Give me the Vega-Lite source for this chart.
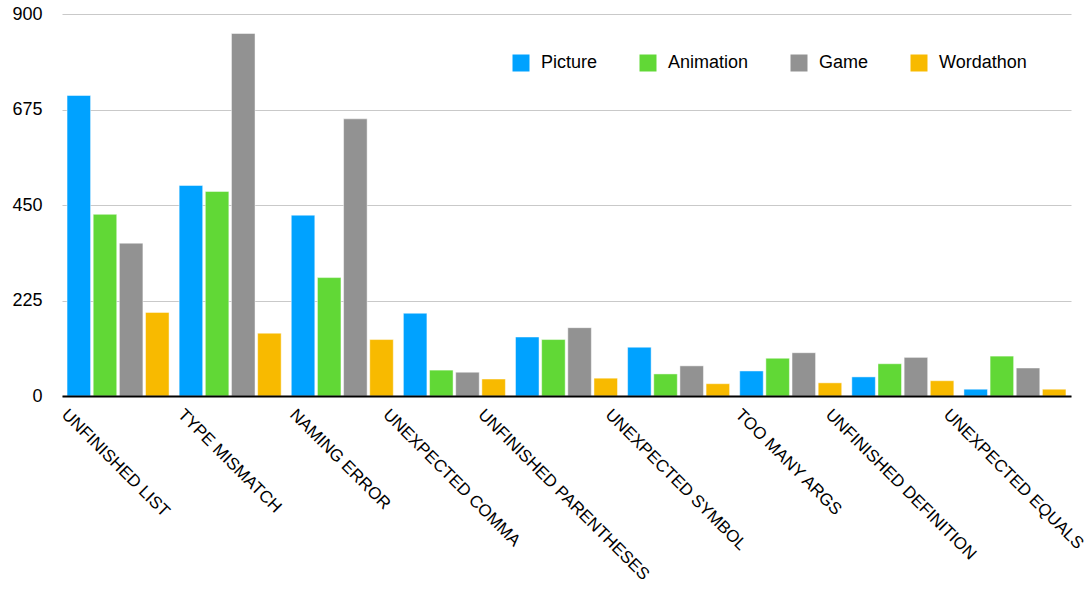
{
  "$schema": "https://vega.github.io/schema/vega-lite/v6.json",
  "autosize": "none",
  "width": 1009,
  "height": 382,
  "padding": {"left": 62, "top": 14, "right": 19, "bottom": 194},
  "background": "white",
  "config": {
    "font": "Liberation Sans",
    "view": {"stroke": null}
  },
  "data": {
    "values": [
      {"error": "UNFINISHED LIST", "tool": "Picture", "count": 708},
      {"error": "UNFINISHED LIST", "tool": "Animation", "count": 428},
      {"error": "UNFINISHED LIST", "tool": "Game", "count": 360},
      {"error": "UNFINISHED LIST", "tool": "Wordathon", "count": 197},
      {"error": "TYPE MISMATCH", "tool": "Picture", "count": 496},
      {"error": "TYPE MISMATCH", "tool": "Animation", "count": 482},
      {"error": "TYPE MISMATCH", "tool": "Game", "count": 854},
      {"error": "TYPE MISMATCH", "tool": "Wordathon", "count": 148},
      {"error": "NAMING ERROR", "tool": "Picture", "count": 426},
      {"error": "NAMING ERROR", "tool": "Animation", "count": 279},
      {"error": "NAMING ERROR", "tool": "Game", "count": 653},
      {"error": "NAMING ERROR", "tool": "Wordathon", "count": 133},
      {"error": "UNEXPECTED COMMA", "tool": "Picture", "count": 195},
      {"error": "UNEXPECTED COMMA", "tool": "Animation", "count": 61},
      {"error": "UNEXPECTED COMMA", "tool": "Game", "count": 56},
      {"error": "UNEXPECTED COMMA", "tool": "Wordathon", "count": 40},
      {"error": "UNFINISHED PARENTHESES", "tool": "Picture", "count": 139},
      {"error": "UNFINISHED PARENTHESES", "tool": "Animation", "count": 133},
      {"error": "UNFINISHED PARENTHESES", "tool": "Game", "count": 161},
      {"error": "UNFINISHED PARENTHESES", "tool": "Wordathon", "count": 42},
      {"error": "UNEXPECTED SYMBOL", "tool": "Picture", "count": 115},
      {"error": "UNEXPECTED SYMBOL", "tool": "Animation", "count": 52},
      {"error": "UNEXPECTED SYMBOL", "tool": "Game", "count": 71},
      {"error": "UNEXPECTED SYMBOL", "tool": "Wordathon", "count": 29},
      {"error": "TOO MANY ARGS", "tool": "Picture", "count": 59},
      {"error": "TOO MANY ARGS", "tool": "Animation", "count": 89},
      {"error": "TOO MANY ARGS", "tool": "Game", "count": 102},
      {"error": "TOO MANY ARGS", "tool": "Wordathon", "count": 31},
      {"error": "UNFINISHED DEFINITION", "tool": "Picture", "count": 45},
      {"error": "UNFINISHED DEFINITION", "tool": "Animation", "count": 76},
      {"error": "UNFINISHED DEFINITION", "tool": "Game", "count": 91},
      {"error": "UNFINISHED DEFINITION", "tool": "Wordathon", "count": 36},
      {"error": "UNEXPECTED EQUALS", "tool": "Picture", "count": 16},
      {"error": "UNEXPECTED EQUALS", "tool": "Animation", "count": 94},
      {"error": "UNEXPECTED EQUALS", "tool": "Game", "count": 66},
      {"error": "UNEXPECTED EQUALS", "tool": "Wordathon", "count": 16}
    ]
  },
  "mark": {"type": "bar", "stroke": "white", "strokeWidth": 0.8, "strokeOpacity": 0.6},
  "encoding": {
    "x": {
      "field": "error",
      "type": "nominal",
      "sort": null,
      "title": null,
      "scale": {"paddingInner": 0.09, "paddingOuter": 0.045},
      "axis": {
        "labelAngle": 45,
        "labelAlign": "left",
        "labelBaseline": "top",
        "labelFontSize": 17,
        "labelColor": "black",
        "labelPadding": 10,
        "labelOffset": {"expr": "[-48, -44, -44, -63, -80, -65, -47, -69, -63][indexof(['UNFINISHED LIST', 'TYPE MISMATCH', 'NAMING ERROR', 'UNEXPECTED COMMA', 'UNFINISHED PARENTHESES', 'UNEXPECTED SYMBOL', 'TOO MANY ARGS', 'UNFINISHED DEFINITION', 'UNEXPECTED EQUALS'], datum.label)]"},
        "labelLimit": 0,
        "ticks": false,
        "domainColor": "black",
        "domainWidth": 2,
        "labelOverlap": false,
        "zindex": 1
      }
    },
    "xOffset": {
      "field": "tool",
      "type": "nominal",
      "sort": ["Picture", "Animation", "Game", "Wordathon"],
      "scale": {"paddingInner": 0.1, "paddingOuter": 0}
    },
    "y": {
      "field": "count",
      "type": "quantitative",
      "title": null,
      "scale": {"domain": [0, 900], "nice": false},
      "axis": {
        "values": [0, 225, 450, 675, 900],
        "domain": false,
        "ticks": false,
        "labelFontSize": 18,
        "labelColor": "black",
        "labelPadding": 20,
        "gridColor": "#c9c9c9",
        "gridWidth": 1
      }
    },
    "color": {
      "field": "tool",
      "type": "nominal",
      "sort": ["Picture", "Animation", "Game", "Wordathon"],
      "scale": {
        "domain": ["Picture", "Animation", "Game", "Wordathon"],
        "range": ["#00A2FF", "#61D836", "#929292", "#F8BA00"]
      },
      "legend": {
        "title": null,
        "orient": "none",
        "legendX": 450,
        "legendY": 40,
        "direction": "horizontal",
        "columns": 4,
        "symbolType": "square",
        "symbolSize": 289,
        "symbolStrokeWidth": 0,
        "labelFontSize": 18,
        "labelColor": "black",
        "labelOffset": 11,
        "columnPadding": 41
      }
    }
  }
}
